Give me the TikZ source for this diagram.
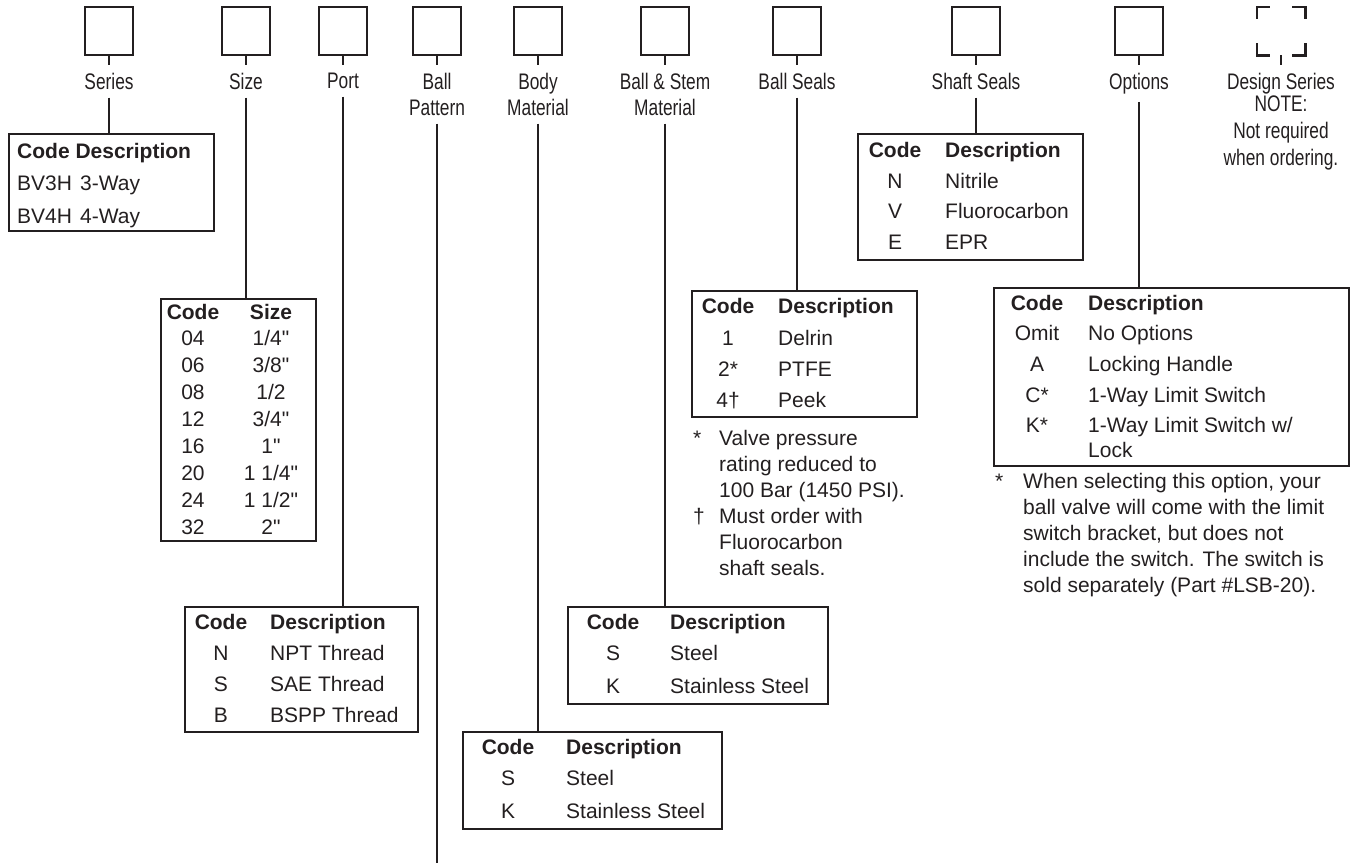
\documentclass[tikz,border=0pt]{standalone}
\usepackage{fontspec}
\newfontfamily\tf{Liberation Sans}
\newfontfamily\cond{Liberation Sans}[FakeStretch=0.77]
\definecolor{ink}{HTML}{231F20}
\begin{document}
\begin{tikzpicture}[x=1pt,y=-1pt,
  every node/.style={text=ink},
  topbox/.style={draw=ink,line width=1.5pt,minimum width=48pt,minimum height=48pt,inner sep=0pt},
  ghostbox/.style={minimum width=48pt,minimum height=48pt,inner sep=0pt},
  corner/.style={draw=ink,line width=2.6pt},
  lbl/.style={font=\cond\fontsize{22.5}{26}\selectfont,inner sep=0pt,outer sep=8pt,align=center,anchor=north},
  note/.style={font=\cond\fontsize{22.5}{27}\selectfont,inner sep=0pt,align=center,anchor=north},
  conn/.style={draw=ink,line width=1.8pt},
  tbl/.style={draw=ink,line width=2pt,inner sep=0pt,anchor=north west},
  tx/.style={font=\tf\fontsize{21}{26}\selectfont,inner sep=0pt},
  hd/.style={font=\tf\bfseries\fontsize{21}{26}\selectfont,inner sep=0pt},
]
\useasboundingbox (0,0) rectangle (1351,863);

% ---------- top row boxes ----------
\node[topbox] (bSeries) at (109,31) {};
\node[topbox] (bSize)   at (246,31) {};
\node[topbox] (bPort)   at (343,31) {};
\node[topbox] (bBall)   at (437,31) {};
\node[topbox] (bBody)   at (538,31) {};
\node[topbox] (bBS)     at (665,31) {};
\node[topbox] (bSeals)  at (797,31) {};
\node[topbox] (bShaft)  at (976,31) {};
\node[topbox] (bOpt)    at (1139,31) {};
\node[ghostbox] (bDes)  at (1281,31) {};
\draw[corner] ([xshift=13pt]bDes.north west) -- (bDes.north west) -- ([yshift=-12pt]bDes.north west);
\draw[corner] ([xshift=-13pt]bDes.north east) -- (bDes.north east) -- ([yshift=-12pt]bDes.north east);
\draw[corner] ([xshift=13pt]bDes.south west) -- (bDes.south west) -- ([yshift=12pt]bDes.south west);
\draw[corner] ([xshift=-13pt]bDes.south east) -- (bDes.south east) -- ([yshift=12pt]bDes.south east);

% ---------- labels ----------
\node[lbl] (lSeries) at (109,65) {Series};
\node[lbl] (lSize)   at (246,65) {Size};
\node[lbl] (lPort)   at (343,65) {Port};
\node[lbl] (lBall)   at (437,65) {Ball\\Pattern};
\node[lbl] (lBody)   at (538,65) {Body\\Material};
\node[lbl] (lBS)     at (665,65) {Ball \& Stem\\Material};
\node[lbl] (lSeals)  at (797,65) {Ball Seals};
\node[lbl] (lShaft)  at (976,65) {Shaft Seals};
\node[lbl] (lOpt)    at (1139,65) {Options};
\node[lbl] (lDes)    at (1281,65) {Design Series};
\node[note] (nDes)   at (1281,96) {NOTE:\\Not required\\when ordering.};

\foreach \n in {Series,Size,Port,Ball,Body,BS,Seals,Shaft,Opt,Des}
  \draw[conn,line width=1.5pt] (b\n) -- (l\n);

% ---------- tables ----------
\node[tbl,minimum width=205pt,minimum height=97pt]  (tSeries) at (8,133) {};
\node[tbl,minimum width=155pt,minimum height=242pt] (tSize)   at (160,298) {};
\node[tbl,minimum width=233pt,minimum height=125pt] (tPort)   at (184,606) {};
\node[tbl,minimum width=259pt,minimum height=97pt]  (tBody)   at (462,731) {};
\node[tbl,minimum width=260pt,minimum height=97pt]  (tBS)     at (567,606) {};
\node[tbl,minimum width=225pt,minimum height=126pt] (tSeals)  at (691,290) {};
\node[tbl,minimum width=225pt,minimum height=126pt] (tShaft)  at (857,133) {};
\node[tbl,minimum width=355pt,minimum height=178pt] (tOpt)    at (993,287) {};
\coordinate (cBall) at (437,863);

% ---------- connectors ----------
\draw[conn] (lSeries.south) -- (lSeries.south |- tSeries.north);
\draw[conn] (lSize.south) -- (lSize.south |- tSize.north);
\draw[conn] (lPort.south) -- (lPort.south |- tPort.north);
\draw[conn] (lBall.south) -- (cBall);
\draw[conn] (lBody.south) -- (lBody.south |- tBody.north);
\draw[conn] (lBS.south) -- (lBS.south |- tBS.north);
\draw[conn] (lSeals.south) -- (lSeals.south |- tSeals.north);
\draw[conn] (lShaft.south) -- (lShaft.south |- tShaft.north);
\draw[conn] (lOpt.south) -- (lOpt.south |- tOpt.north);

% ---------- Series table ----------
\node[hd,anchor=base west] (sH) at (17,158) {Code Description};
\node[tx,anchor=base west] (sC1) at (17,190) {BV3H};
\node[tx,anchor=base west] (sD1) at (80,190) {3-Way};
\node[tx,anchor=base west] (sC2) at (17,223) {BV4H};
\node[tx,anchor=base west] (sD2) at (80,223) {4-Way};

% ---------- Size table ----------
\node[hd,anchor=base] (zH1) at (193,319) {Code};
\node[hd,anchor=base] (zH2) at (271,319) {Size};
\foreach \c/\v [count=\i] in {04/{1/4"},06/{3/8"},08/{1/2},12/{3/4"},16/{1"},20/{1 1/4"},24/{1 1/2"},32/{2"}}{
  \node[tx,anchor=base] (zc\i) at (193,318+27*\i) {\c};
  \node[tx,anchor=base] (zv\i) at (271,318+27*\i) {\v};
}

% ---------- Port table ----------
\node[hd,anchor=base] (pH1) at (221,629) {Code};
\node[hd,anchor=base west] (pH2) at (270,629) {Description};
\node[tx,anchor=base] (pc1) at (221,660) {N};
\node[tx,anchor=base west] (pd1) at (270,660) {NPT Thread};
\node[tx,anchor=base] (pc2) at (221,691) {S};
\node[tx,anchor=base west] (pd2) at (270,691) {SAE Thread};
\node[tx,anchor=base] (pc3) at (221,722) {B};
\node[tx,anchor=base west] (pd3) at (270,722) {BSPP Thread};

% ---------- Body table ----------
\node[hd,anchor=base] (yH1) at (508,754) {Code};
\node[hd,anchor=base west] (yH2) at (566,754) {Description};
\node[tx,anchor=base] (yc1) at (508,785) {S};
\node[tx,anchor=base west] (yd1) at (566,785) {Steel};
\node[tx,anchor=base] (yc2) at (508,818) {K};
\node[tx,anchor=base west] (yd2) at (566,818) {Stainless Steel};

% ---------- Ball & Stem table ----------
\node[hd,anchor=base] (mH1) at (613,629) {Code};
\node[hd,anchor=base west] (mH2) at (670,629) {Description};
\node[tx,anchor=base] (mc1) at (613,660) {S};
\node[tx,anchor=base west] (md1) at (670,660) {Steel};
\node[tx,anchor=base] (mc2) at (613,693) {K};
\node[tx,anchor=base west] (md2) at (670,693) {Stainless Steel};

% ---------- Ball Seals table ----------
\node[hd,anchor=base] (eH1) at (728,313) {Code};
\node[hd,anchor=base west] (eH2) at (778,313) {Description};
\node[tx,anchor=base] (ec1) at (728,345) {1};
\node[tx,anchor=base west] (ed1) at (778,345) {Delrin};
\node[tx,anchor=base] (ec2) at (728,376) {2*};
\node[tx,anchor=base west] (ed2) at (778,376) {PTFE};
\node[tx,anchor=base] (ec3) at (728,407) {4†};
\node[tx,anchor=base west] (ed3) at (778,407) {Peek};
\node[tx,anchor=base west] (ef0) at (693,445) {*};
\node[tx,anchor=base west] (ef1) at (719,445) {Valve pressure};
\node[tx,anchor=base west] (ef2) at (719,471) {rating reduced to};
\node[tx,anchor=base west] (ef3) at (719,497) {100 Bar (1450 PSI).};
\node[tx,anchor=base west] (eg0) at (693,523) {†};
\node[tx,anchor=base west] (eg1) at (719,523) {Must order with};
\node[tx,anchor=base west] (eg2) at (719,549) {Fluorocarbon};
\node[tx,anchor=base west] (eg3) at (719,575) {shaft seals.};

% ---------- Shaft Seals table ----------
\node[hd,anchor=base] (hH1) at (895,157) {Code};
\node[hd,anchor=base west] (hH2) at (945,157) {Description};
\node[tx,anchor=base] (hc1) at (895,188) {N};
\node[tx,anchor=base west] (hd1) at (945,188) {Nitrile};
\node[tx,anchor=base] (hc2) at (895,218) {V};
\node[tx,anchor=base west] (hd2) at (945,218) {Fluorocarbon};
\node[tx,anchor=base] (hc3) at (895,249) {E};
\node[tx,anchor=base west] (hd3) at (945,249) {EPR};

% ---------- Options table ----------
\node[hd,anchor=base] (oH1) at (1037,310) {Code};
\node[hd,anchor=base west] (oH2) at (1088,310) {Description};
\node[tx,anchor=base] (oc1) at (1037,340) {Omit};
\node[tx,anchor=base west] (od1) at (1088,340) {No Options};
\node[tx,anchor=base] (oc2) at (1037,371) {A};
\node[tx,anchor=base west] (od2) at (1088,371) {Locking Handle};
\node[tx,anchor=base] (oc3) at (1037,402) {C*};
\node[tx,anchor=base west] (od3) at (1088,402) {1-Way Limit Switch};
\node[tx,anchor=base] (oc4) at (1037,432) {K*};
\node[tx,anchor=base west] (od4) at (1088,432) {1-Way Limit Switch w/};
\node[tx,anchor=base west] (od5) at (1088,457) {Lock};
\node[tx,anchor=base west] (of0) at (995,488) {*};
\node[tx,anchor=base west] (of1) at (1023,488) {When selecting this option, your};
\node[tx,anchor=base west] (of2) at (1023,514) {ball valve will come with the limit};
\node[tx,anchor=base west] (of3) at (1023,540) {switch bracket, but does not};
\node[tx,anchor=base west] (of4) at (1023,566) {include the switch. The switch is};
\node[tx,anchor=base west] (of5) at (1023,592) {sold separately (Part \#LSB-20).};
\end{tikzpicture}
\end{document}
